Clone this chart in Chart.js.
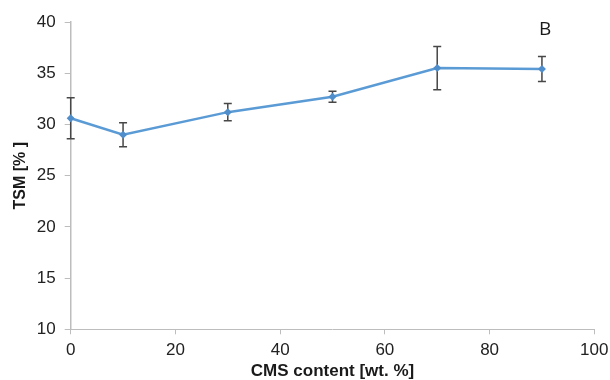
<!DOCTYPE html>
<html lang="en">
<head>
    <meta charset="UTF-8">
    <title>TSM vs CMS content</title>
    <script src="https://cdn.jsdelivr.net/npm/chart.js"></script>
    <style>
        html, body {
            margin: 0;
            padding: 0;
            background: #ffffff;
        }

        .wrap {
            width: 610px;
            height: 380px;
            position: relative;
        }
    </style>
</head>
<body>

    <div class="wrap">
        <canvas id="tsmChart" width="610" height="380"></canvas>
    </div>

    <script>
        // values
        const cmsContent = [0, 10, 30, 50, 70, 90];
        const tsmValues = [30.6, 29.0, 31.2, 32.7, 35.5, 35.4];
        const tsmErrors = [2.0, 1.17, 0.85, 0.53, 2.12, 1.22];
        const panelLabel = 'B';

        // draws the +/- error bars under the line
        const errorBars = {
            id: 'errorBars',
            beforeDatasetsDraw(chart) {
                const { ctx, scales: { x, y } } = chart;
                ctx.save();
                ctx.strokeStyle = '#474747';
                ctx.lineWidth = 1.5;
                cmsContent.forEach((c, i) => {
                    const px = x.getPixelForValue(c);
                    const top = y.getPixelForValue(tsmValues[i] + tsmErrors[i]);
                    const bottom = y.getPixelForValue(tsmValues[i] - tsmErrors[i]);
                    ctx.beginPath();
                    ctx.moveTo(px, top);
                    ctx.lineTo(px, bottom);
                    ctx.moveTo(px - 4, top);
                    ctx.lineTo(px + 4, top);
                    ctx.moveTo(px - 4, bottom);
                    ctx.lineTo(px + 4, bottom);
                    ctx.stroke();
                });
                ctx.restore();
            }
        };

        // panel letter in the top right corner
        const panelText = {
            id: 'panelText',
            afterDraw(chart) {
                const { ctx, scales: { x, y } } = chart;
                ctx.save();
                ctx.fillStyle = '#1a1a1a';
                ctx.font = '19px "Open Sans", sans-serif';
                ctx.textAlign = 'center';
                ctx.textBaseline = 'middle';
                ctx.fillText(panelLabel, x.getPixelForValue(90.6), y.getPixelForValue(39.3));
                ctx.restore();
            }
        };

        const axisGrey = '#bdbdbd';

        const ctx = document.getElementById('tsmChart').getContext('2d');
        const chart = new Chart(ctx, {
            type: 'line',
            data: {
                datasets: [{
                    data: cmsContent.map((c, i) => ({ x: c, y: tsmValues[i] })),
                    borderColor: '#5b9bd5',
                    backgroundColor: '#4f8dcb',
                    borderWidth: 2.5,
                    pointStyle: 'rectRot',
                    pointRadius: 4,
                    pointBorderWidth: 0,
                    tension: 0,
                    clip: false
                }]
            },
            options: {
                responsive: false,
                animation: false,
                layout: {
                    padding: { top: 22, right: 15.7, bottom: 0, left: 0 }
                },
                plugins: {
                    legend: { display: false },
                    tooltip: { enabled: false }
                },
                scales: {
                    x: {
                        type: 'linear',
                        min: 0,
                        max: 100,
                        afterFit(scale) {
                            scale.height = 50.7;
                            scale.paddingLeft = 0;
                            scale.paddingRight = 0;
                        },
                        ticks: {
                            stepSize: 20,
                            padding: 6,
                            color: '#222',
                            font: { family: 'Liberation Sans', size: 17 }
                        },
                        grid: {
                            drawOnChartArea: false,
                            tickLength: 5,
                            tickColor: axisGrey
                        },
                        border: { color: axisGrey, width: 1 },
                        title: {
                            display: true,
                            text: 'CMS content [wt. %]',
                            color: '#1a1a1a',
                            padding: { top: 0, bottom: 0 },
                            font: { family: 'Liberation Sans', size: 17, weight: 'bold', lineHeight: 1 }
                        }
                    },
                    y: {
                        min: 10,
                        max: 40,
                        afterFit(scale) {
                            scale.width = 70.7;
                            scale.paddingTop = 0;
                            scale.paddingBottom = 0;
                        },
                        ticks: {
                            stepSize: 5,
                            padding: 9,
                            color: '#222',
                            font: { family: 'Liberation Sans', size: 17 }
                        },
                        grid: {
                            drawOnChartArea: false,
                            tickLength: 6,
                            tickColor: axisGrey
                        },
                        border: { color: axisGrey, width: 1.5 },
                        title: {
                            display: true,
                            text: 'TSM [% ]',
                            color: '#1a1a1a',
                            padding: { top: 12.5, bottom: 0 },
                            font: { family: 'Liberation Sans', size: 16, weight: 'bold', lineHeight: 1 }
                        }
                    }
                }
            },
            plugins: [errorBars, panelText]
        });
    </script>

</body>
</html>
